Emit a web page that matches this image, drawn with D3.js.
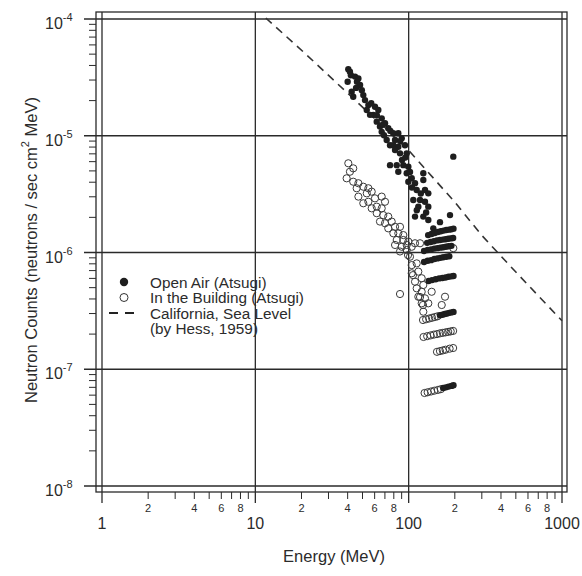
<!DOCTYPE html>
<html><head><meta charset="utf-8">
<script src="https://cdn.jsdelivr.net/npm/d3@7"></script>
<style>
body{margin:0;background:#fff;}
text{font-family:"Liberation Sans",Arial,sans-serif;fill:#2b2b2b;}
</style></head>
<body><svg id="c" width="582" height="576"></svg>
<script>
// ---- data ----
const xMajor = [1, 10, 100, 1000];
const xMajorLabels = ["1", "10", "100", "1000"];
const xMinorLabelMant = [2, 4, 6, 8];
const yMajorExp = [-4, -5, -6, -7, -8];

const legendLabels = ["Open Air (Atsugi)", "In the Building (Atsugi)", "California, Sea Level", "(by Hess, 1959)"];

const hessE = [11.7, 21, 50, 100, 200, 300, 500, 1000];
const hessC = [1.02e-4, 5.1e-5, 1.76e-5, 7.5e-6, 2.7e-6, 1.4e-6, 6.8e-7, 2.6e-7];

// Open Air (filled) [Energy MeV, counts]
const openAir = [
 [40.4,3.71e-5],[41.4,3.54e-5],[44.7,3.21e-5],[40.0,2.90e-5],[47.0,3.10e-5],[48.2,2.72e-5],[42.5,2.38e-5],
 [43.5,2.16e-5],[50.6,2.23e-5],[51.9,2.02e-5],[54.6,1.83e-5],[53.3,1.66e-5],[60.3,1.77e-5],[63.4,1.66e-5],
 [58.8,1.51e-5],[66.7,1.41e-5],[61.9,1.32e-5],[70.1,1.28e-5],[65.0,1.20e-5],[73.6,1.16e-5],[66.7,1.08e-5],
 [79.4,1.05e-5],[85.6,1.05e-5],[71.9,9.2e-6],[81.5,9.2e-6],[90.1,9.5e-6],[79.4,8.3e-6],[94.6,8.3e-6],
 [85.6,8.06e-6],[81.5,7.55e-6],[87.8,7.07e-6],[97.1,7.07e-6],[75.6,5.6e-6],[83.6,5.6e-6],[92.3,5.6e-6],
 [99.5,5.43e-6],[85.6,4.92e-6],[97.1,4.77e-6],[124.6,4.77e-6],[104.7,4.32e-6],[99.5,4.04e-6],[110,3.92e-6],
 [124.6,4.18e-6],[112.8,3.43e-6],[127.8,3.43e-6],[134.3,3.21e-6],[107.2,2.82e-6],[118.6,2.82e-6],
 [127.8,2.72e-6],[115.6,2.47e-6],[134.3,2.47e-6],[110,2.03e-6],[124.6,2.03e-6],[134.3,1.90e-6],
 [186,2.09e-6],[195.5,6.62e-6],[144.8,1.61e-6],[160,1.82e-6],[45.4,2.57e-5],[56,1.51e-5],[69,1.01e-5],
 [75.6,8.3e-6],[90.5,6.2e-6],[42,3.3e-5],[46,2.9e-5],[49.5,2.45e-5],[57,1.9e-5],[62,1.5e-5],[68,1.25e-5],
 [76,1.1e-5],[88,9.0e-6],[95,6.5e-6],[102,4.9e-6],[105,3.6e-6],[120,3.2e-6],[113,2.3e-6],[130,2.2e-6],
 // rows
 [134,1.41e-6],[141,1.44e-6],[148,1.47e-6],[155,1.5e-6],[162,1.52e-6],[169,1.54e-6],[176,1.56e-6],[183,1.57e-6],[190,1.58e-6],[196,1.6e-6],
 [132,1.21e-6],[139,1.23e-6],[146,1.25e-6],[153,1.27e-6],[160,1.28e-6],[167,1.29e-6],[174,1.3e-6],[181,1.31e-6],[188,1.32e-6],[195,1.33e-6],
 [126,1.03e-6],[133,1.05e-6],[140,1.06e-6],[147,1.08e-6],[154,1.09e-6],[161,1.1e-6],[168,1.11e-6],[175,1.12e-6],[182,1.13e-6],[190,1.14e-6],
 [126,8.3e-7],[133,8.5e-7],[140,8.6e-7],[147,8.8e-7],[154,8.9e-7],[161,9.0e-7],[168,9.1e-7],[176,9.2e-7],[184,9.3e-7],
 [135,5.7e-7],[142,5.8e-7],[150,5.9e-7],[158,6.0e-7],[166,6.05e-7],[174,6.1e-7],[182,6.2e-7],[190,6.25e-7],[196,6.3e-7],
 [160,2.9e-7],[166,2.93e-7],[172,2.97e-7],[178,3.0e-7],[184,3.04e-7],[190,3.07e-7],[196,3.1e-7],
 [168,6.9e-8],[175,7.0e-8],[182,7.1e-8],[190,7.2e-8],[196,7.3e-8]
];

// In the Building (open) [Energy MeV, counts]
const building = [
 [40.4,5.81e-6],[43.5,5.26e-6],[41.4,4.92e-6],[39.4,4.32e-6],[43.5,4.04e-6],[47.0,3.92e-6],[45.8,3.55e-6],
 [50.6,3.66e-6],[54.6,3.55e-6],[53.3,3.21e-6],[57.4,3.32e-6],[47.0,3.01e-6],[50.6,2.64e-6],[54.6,2.72e-6],
 [60.3,2.91e-6],[66.7,3.01e-6],[70.1,2.72e-6],[57.4,2.39e-6],[61.9,2.47e-6],[66.7,2.39e-6],[61.9,2.17e-6],
 [68.3,2.09e-6],[73.6,2.03e-6],[65.0,1.84e-6],[70.1,1.78e-6],[77.5,1.84e-6],[73.6,1.61e-6],[81.5,1.66e-6],
 [87.8,1.66e-6],[79.4,1.46e-6],[85.6,1.46e-6],[92.3,1.41e-6],[83.6,1.28e-6],[92.3,1.28e-6],[99.5,1.24e-6],
 [81.5,1.16e-6],[90.1,1.12e-6],[97.1,1.16e-6],[110,1.20e-6],[118.6,1.20e-6],[87.8,1.02e-6],[97.1,1.05e-6],
 [104.7,1.12e-6],[102,9.2e-7],[104.7,7.8e-7],[112.8,8.07e-7],[104.7,6.64e-7],[115.6,6.86e-7],[121.6,6.02e-7],
 [110,5.62e-7],[124.6,5.27e-7],[112.8,4.93e-7],[121.6,4.61e-7],[87.8,4.41e-7],[141.3,4.61e-7],[172.6,4.18e-7],
 [115.6,4.18e-7],[127.8,4.05e-7],[121.6,3.67e-7],[134.3,3.67e-7],[164.3,3.55e-7],[124.6,3.11e-7],[195.5,1.09e-6],
 [99,9.5e-7],[106.7,6.4e-7],[118.6,4.16e-7],[124,3.55e-7],
 // rows
 [124,2.64e-7],[130,2.68e-7],[136,2.72e-7],[142,2.76e-7],[148,2.8e-7],[154,2.84e-7],
 [125,1.89e-7],[132,1.92e-7],[139,1.95e-7],[146,1.98e-7],[153,2.0e-7],[160,2.03e-7],[167,2.05e-7],[174,2.07e-7],[181,2.09e-7],[188,2.11e-7],[195,2.13e-7],
 [153,1.41e-7],[160,1.43e-7],[167,1.45e-7],[174,1.47e-7],[185,1.5e-7],[195,1.52e-7],
 [127,6.26e-8],[133,6.35e-8],[140,6.45e-8],[147,6.55e-8],[155,6.65e-8],[162,6.75e-8]
];

// ---- drawing ----
const svg = d3.select("#c");
const x = d3.scaleLog().domain([1, 1000]).range([102, 562]);
const y = d3.scaleLog().domain([1e-8, 1e-4]).range([486, 19]);
const frame = {l: 96, r: 567, t: 12, b: 492};
const ink = "#2a2a2a";

svg.append("rect").attr("x", frame.l).attr("y", frame.t)
  .attr("width", frame.r - frame.l).attr("height", frame.b - frame.t)
  .attr("fill", "none").attr("stroke", ink).attr("stroke-width", 1.3);

// major grid lines
xMajor.forEach(v => {
  svg.append("line").attr("x1", x(v)).attr("x2", x(v)).attr("y1", frame.t).attr("y2", frame.b + 11)
    .attr("stroke", ink).attr("stroke-width", 1.3);
});
yMajorExp.forEach(e => {
  svg.append("line").attr("x1", frame.l - 12).attr("x2", frame.r).attr("y1", y(Math.pow(10, e))).attr("y2", y(Math.pow(10, e)))
    .attr("stroke", ink).attr("stroke-width", 1.3);
});

// minor ticks
const decX = [1, 10, 100];
decX.forEach(d => {
  for (let m = 2; m <= 9; m++) {
    const v = m * d;
    svg.append("line").attr("x1", x(v)).attr("x2", x(v)).attr("y1", frame.b).attr("y2", frame.b + 7)
      .attr("stroke", ink).attr("stroke-width", 1);
  }
  xMinorLabelMant.forEach(m => {
    svg.append("text").attr("x", x(m * d)).attr("y", 512).attr("text-anchor", "middle")
      .attr("font-size", 11).text(m);
  });
});
[-8, -7, -6, -5].forEach(e => {
  for (let m = 2; m <= 9; m++) {
    const v = m * Math.pow(10, e);
    svg.append("line").attr("x1", frame.l - 7).attr("x2", frame.l).attr("y1", y(v)).attr("y2", y(v))
      .attr("stroke", ink).attr("stroke-width", 1);
  }
});

// major labels
xMajor.forEach((v, i) => {
  svg.append("text").attr("x", x(v)).attr("y", 529).attr("text-anchor", "middle")
    .attr("font-size", 16).text(xMajorLabels[i]);
});
yMajorExp.forEach(e => {
  const t = svg.append("text").attr("x", 45).attr("y", y(Math.pow(10, e)) + 10).attr("font-size", 16);
  t.append("tspan").text("10");
  t.append("tspan").attr("font-size", 11).attr("dy", -8).text(String(e));
});

// axis titles
svg.append("text").attr("x", 334).attr("y", 562).attr("text-anchor", "middle").attr("font-size", 16.5).text("Energy (MeV)");
const yt = svg.append("text").attr("transform", "translate(37,250) rotate(-90)").attr("text-anchor", "middle").attr("font-size", 16.5);
yt.append("tspan").text("Neutron Counts (neutrons / sec cm");
yt.append("tspan").attr("font-size", 11).attr("dy", -8).text("2");
yt.append("tspan").attr("dy", 8).text(" MeV)");

// Hess dashed line
const line = d3.line().x(d => x(d[0])).y(d => y(d[1]));
svg.append("path").datum(hessE.map((e, i) => [e, hessC[i]])).attr("d", line)
  .attr("fill", "none").attr("stroke", "#333").attr("stroke-width", 1.6).attr("stroke-dasharray", "8,6");

// points
svg.append("g").selectAll("circle").data(building).join("circle")
  .attr("cx", d => x(d[0])).attr("cy", d => y(d[1])).attr("r", 3.6)
  .attr("fill", "none").attr("stroke", "#3a3a3a").attr("stroke-width", 1);
svg.append("g").selectAll("circle").data(openAir).join("circle")
  .attr("cx", d => x(d[0])).attr("cy", d => y(d[1])).attr("r", 3.2)
  .attr("fill", "#1e1e1e");

// legend
const lg = svg.append("g");
lg.append("circle").attr("cx", 124).attr("cy", 282).attr("r", 4.2).attr("fill", "#1e1e1e");
lg.append("circle").attr("cx", 124).attr("cy", 297.5).attr("r", 4).attr("fill", "none").attr("stroke", "#333").attr("stroke-width", 1);
lg.append("line").attr("x1", 109).attr("x2", 134).attr("y1", 313).attr("y2", 313)
  .attr("stroke", "#222").attr("stroke-width", 2).attr("stroke-dasharray", "9,7");
legendLabels.forEach((t, i) => {
  lg.append("text").attr("x", 150).attr("y", 287.5 + i * 15.6).attr("font-size", 15.3).text(t);
});
</script></body></html>
